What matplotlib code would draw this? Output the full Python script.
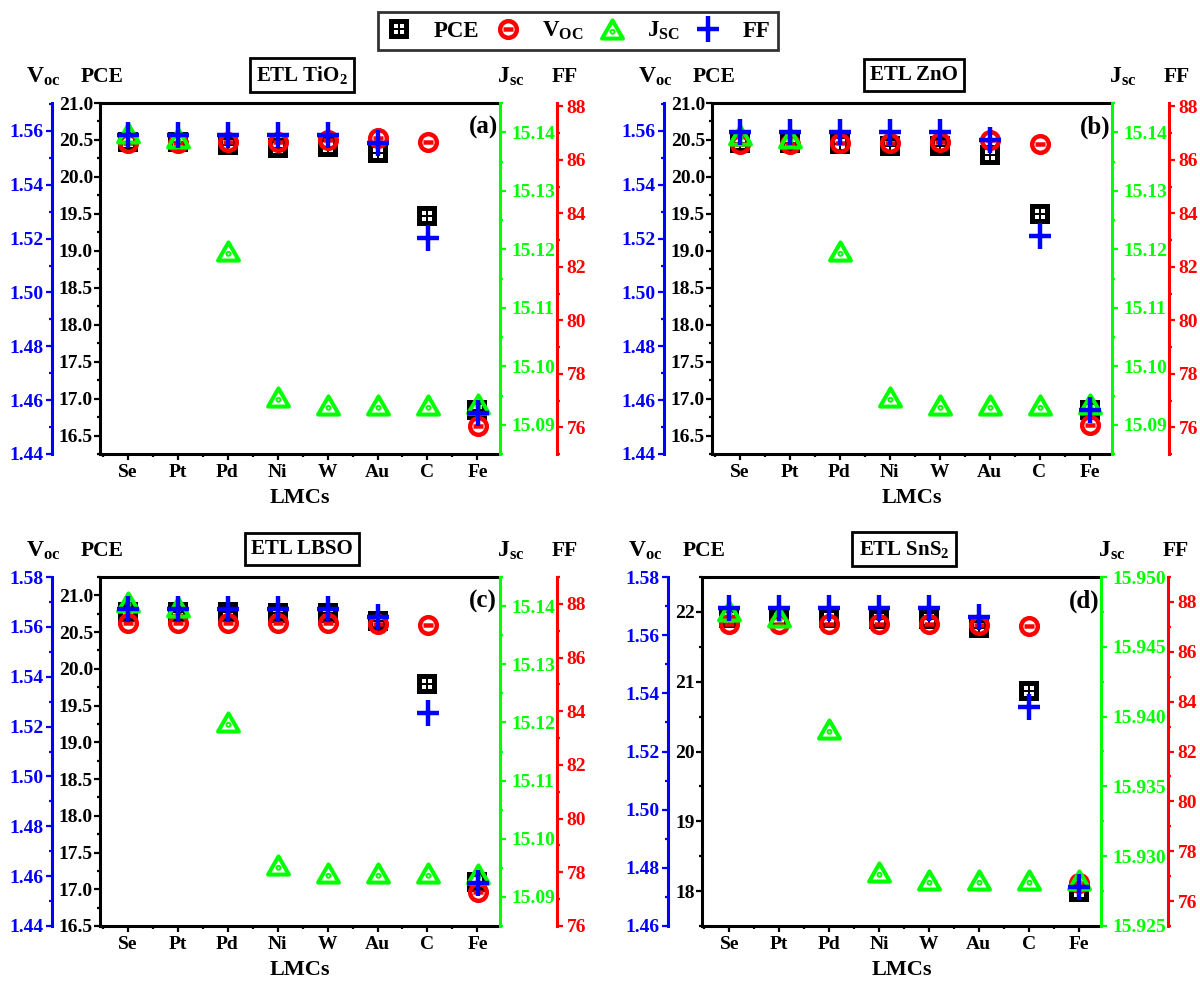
import matplotlib
matplotlib.use('Agg')
import matplotlib.pyplot as plt
import numpy as np
from matplotlib.path import Path
from matplotlib.markers import MarkerStyle
from matplotlib.lines import Line2D
from matplotlib.ticker import MultipleLocator, FormatStrFormatter

plt.rcParams['font.family'] = 'Liberation Serif'
plt.rcParams['font.weight'] = 'bold'
plt.rcParams['axes.labelweight'] = 'bold'
plt.rcParams['mathtext.fontset'] = 'custom'
plt.rcParams['mathtext.rm'] = 'Liberation Serif:bold'
plt.rcParams['mathtext.bf'] = 'Liberation Serif:bold'
plt.rcParams['mathtext.it'] = 'Liberation Serif:bold'

BLUE, GREEN, RED = '#0000FF', '#00FF00', '#FF0000'

lmcs = ['Se', 'Pt', 'Pd', 'Ni', 'W', 'Au', 'C', 'Fe']

# ETL TiO2
pce_tio2 = [20.47, 20.47, 20.43, 20.39, 20.40, 20.32, 19.47, 16.85]
voc_tio2 = [1.5554, 1.5554, 1.5558, 1.5558, 1.5566, 1.5573, 1.5560, 1.4504]
jsc_tio2 = [15.1398, 15.1390, 15.1197, 15.0948, 15.0934, 15.0934, 15.0934, 15.0935]
ff_tio2 = [86.93, 86.93, 86.93, 86.93, 86.93, 86.65, 83.07, 76.53]

# ETL ZnO
pce_zno = [20.46, 20.46, 20.45, 20.42, 20.42, 20.30, 19.50, 16.85]
voc_zno = [1.5552, 1.5552, 1.5556, 1.5556, 1.5560, 1.5566, 1.5552, 1.4508]
jsc_zno = [15.1395, 15.1390, 15.1197, 15.0948, 15.0934, 15.0934, 15.0934, 15.0935]
ff_zno = [87.06, 87.06, 87.06, 87.06, 87.06, 86.75, 83.16, 76.65]

# ETL LBSO
pce_lbso = [20.77, 20.77, 20.77, 20.76, 20.76, 20.65, 19.79, 17.10]
voc_lbso = [1.5614, 1.5614, 1.5614, 1.5614, 1.5617, 1.5611, 1.5607, 1.4538]
jsc_lbso = [15.1407, 15.1399, 15.1201, 15.0955, 15.0941, 15.0941, 15.0941, 15.0939]
ff_lbso = [87.80, 87.80, 87.80, 87.80, 87.80, 87.50, 83.94, 77.61]

# ETL SnS2
pce_sns2 = [21.91, 21.91, 21.91, 21.90, 21.90, 21.77, 20.86, 17.99]
voc_sns2 = [1.5639, 1.5639, 1.5639, 1.5639, 1.5639, 1.5635, 1.5632, 1.4748]
jsc_sns2 = [15.94758, 15.94710, 15.93913, 15.92889, 15.92830, 15.92830, 15.92830, 15.92830]
ff_sns2 = [87.74, 87.74, 87.74, 87.74, 87.74, 87.41, 83.80, 76.58]

legend_labels = ['PCE', r'V$_{\mathbf{OC}}$', r'J$_{\mathbf{SC}}$', 'FF']

W, H = 1200, 984
fig = plt.figure(figsize=(W / 100, H / 100), dpi=100)

M, L, C = Path.MOVETO, Path.LINETO, Path.CLOSEPOLY


def square_marker():
    parts = [Path([(-1, -1), (1, -1), (1, 1), (-1, 1), (-1, -1)], [M, L, L, L, C])]
    s = 0.18
    for cx in (-0.33, 0.33):
        for cy in (-0.33, 0.33):
            parts.append(Path([(cx - s, cy - s), (cx - s, cy + s), (cx + s, cy + s),
                               (cx + s, cy - s), (cx - s, cy - s)], [M, L, L, L, C]))
    return MarkerStyle(Path.make_compound_path(*parts))


def circle_marker():
    bar = Path([(-0.6, 0), (0.6, 0)], [M, L])
    return MarkerStyle(Path.make_compound_path(Path.unit_circle(), bar))


def triangle_marker():
    tri = Path([(0, 0.87), (-1, -0.87), (1, -0.87), (0, 0.87)], [M, L, L, C])
    dot = Path.circle((0, -0.22), 0.09)
    return MarkerStyle(Path.make_compound_path(tri, dot), joinstyle='miter')


def plus_marker():
    return MarkerStyle(Path([(-0.85, 0), (0.85, 0), (0, -1), (0, 1)], [M, L, M, L]),
                       capstyle='butt')


styles = {
    'pce': dict(marker=square_marker(), ms=14, mfc='black', mec='black', mew=0),
    'voc': dict(marker=circle_marker(), ms=12, mfc='none', mec=RED, mew=3.2),
    'jsc': dict(marker=triangle_marker(), ms=15, mfc='none', mec=GREEN, mew=2.9),
    'ff': dict(marker=plus_marker(), ms=19, mfc='none', mec=BLUE, mew=3.2),
}


def fig_xy(x, y):
    return x / W, 1 - y / H


def style_y(axis, color, side, step, minor, fmt, pad):
    axis.yaxis.set_major_locator(MultipleLocator(step))
    axis.yaxis.set_minor_locator(MultipleLocator(minor))
    axis.yaxis.set_major_formatter(FormatStrFormatter(fmt))
    axis.tick_params(axis='y', which='both', direction='out', colors=color,
                     labelsize=14, pad=pad, width=1.6)
    axis.tick_params(axis='y', which='major', length=4)
    axis.tick_params(axis='y', which='minor', length=2.5)
    axis.yaxis.set_ticks_position(side)
    axis.yaxis.set_label_position(side)


def draw_panel(box, pce, voc, jsc, ff, pce_lim, pce_step, pce_fmt, voc_lim,
               jsc_lim, jsc_step, jsc_fmt, ff_lim, blue_off, red_off, etl, tag):
    x0, y0, w, h = box
    ax = fig.add_axes([x0 / W, 1 - (y0 + h) / H, w / W, h / H])
    xs = np.arange(len(lmcs))

    ax.plot(xs, pce, ls='none', **styles['pce'])
    ax.set_xlim(-0.55, 7.45)
    ax.set_ylim(*pce_lim)
    ax.set_xticks(xs)
    ax.set_xticklabels(lmcs)
    ax.xaxis.set_minor_locator(MultipleLocator(0.5))
    ax.tick_params(axis='x', which='both', direction='out', labelsize=14, pad=3, width=1.6)
    ax.tick_params(axis='x', which='major', length=4)
    ax.tick_params(axis='x', which='minor', length=2.5)
    style_y(ax, 'black', 'left', pce_step, pce_step / 2, pce_fmt, 1)
    for side in ('left', 'bottom', 'top'):
        ax.spines[side].set_linewidth(2.2)
    ax.spines['right'].set_visible(False)
    ax.set_xlabel('LMCs', fontsize=16)
    ax.xaxis.set_label_coords(0.5, -34 / h)

    axv = ax.twinx()
    axv.plot(xs, voc, ls='none', **styles['voc'])
    axv.set_ylim(*voc_lim)
    style_y(axv, BLUE, 'left', 0.02, 0.01, '%.2f', 2)
    for side in ('right', 'top', 'bottom'):
        axv.spines[side].set_visible(False)
    axv.spines['left'].set_visible(True)
    axv.spines['left'].set_position(('outward', blue_off * 0.72))
    axv.spines['left'].set_color(BLUE)
    axv.spines['left'].set_linewidth(2.2)

    axj = ax.twinx()
    axj.plot(xs, jsc, ls='none', **styles['jsc'])
    axj.set_ylim(*jsc_lim)
    style_y(axj, GREEN, 'right', jsc_step, jsc_step / 2, jsc_fmt, 4)
    for side in ('left', 'top', 'bottom'):
        axj.spines[side].set_visible(False)
    axj.spines['right'].set_color(GREEN)
    axj.spines['right'].set_linewidth(2.2)

    axf = ax.twinx()
    axf.plot(xs, ff, ls='none', **styles['ff'])
    axf.set_ylim(*ff_lim)
    style_y(axf, RED, 'right', 2, 1, '%d', 3)
    for side in ('left', 'top', 'bottom'):
        axf.spines[side].set_visible(False)
    axf.spines['right'].set_position(('outward', red_off * 0.72))
    axf.spines['right'].set_color(RED)
    axf.spines['right'].set_linewidth(2.2)

    right = x0 + w
    red_x = right + red_off
    head_y = y0 - 26
    fig.text(*fig_xy(x0 - 57, head_y), r'V$_{\mathbf{oc}}$', fontsize=17, ha='center', va='center')
    fig.text(*fig_xy(x0 + 2, head_y), 'PCE', fontsize=15.5, ha='center', va='center')
    fig.text(*fig_xy(right + 11, head_y), r'J$_{\mathbf{sc}}$', fontsize=17, ha='center', va='center')
    fig.text(*fig_xy(red_x + 8, head_y), 'FF', fontsize=15.5, ha='center', va='center')

    fig.text(*fig_xy(x0 + 202, y0 - 28), etl, fontsize=15, ha='center', va='center',
             bbox=dict(boxstyle='square,pad=0.3', fc='white', ec='black', lw=2))
    fig.text(*fig_xy(right - 17, y0 + 24), tag, fontsize=18, ha='center', va='center')


draw_panel((100, 103, 400, 351), pce_tio2, voc_tio2, jsc_tio2, ff_tio2,
           (16.25, 21.0), 0.5, '%.1f', (1.44, 1.5704),
           (15.085, 15.145), 0.01, '%.2f', (75, 88.13), 48, 57, r'ETL TiO$_2$', '(a)')
draw_panel((712, 103, 400, 351), pce_zno, voc_zno, jsc_zno, ff_zno,
           (16.25, 21.0), 0.5, '%.1f', (1.44, 1.5704),
           (15.085, 15.145), 0.01, '%.2f', (75, 88.13), 48, 57, 'ETL ZnO', '(b)')
draw_panel((100, 577, 400, 349), pce_lbso, voc_lbso, jsc_lbso, ff_lbso,
           (16.5, 21.25), 0.5, '%.1f', (1.44, 1.58),
           (15.085, 15.145), 0.01, '%.2f', (76, 89), 48, 57, 'ETL LBSO', '(c)')
draw_panel((702, 577, 399, 349), pce_sns2, voc_sns2, jsc_sns2, ff_sns2,
           (17.5, 22.5), 1, '%d', (1.46, 1.58),
           (15.925, 15.950), 0.005, '%.3f', (75, 89), 34, 67, r'ETL SnS$_2$', '(d)')

handles = [Line2D([], [], ls='none', **styles[k]) for k in ('pce', 'voc', 'jsc', 'ff')]
leg = fig.legend(handles, legend_labels, loc='center', bbox_to_anchor=fig_xy(578, 31),
                 ncol=4, fontsize=16.5, frameon=True, fancybox=False, edgecolor='black',
                 handlelength=1.2, handletextpad=0.9, columnspacing=0.65,
                 borderpad=0.35)
leg.get_frame().set_linewidth(2)

fig.savefig('out.png', dpi=100)
